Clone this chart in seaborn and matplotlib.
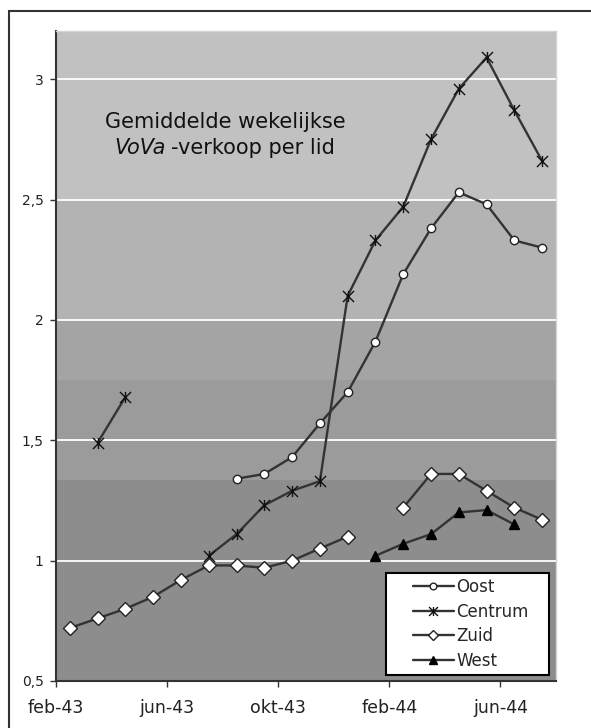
import numpy as np
import pandas as pd
import matplotlib.pyplot as plt
import seaborn as sns
from matplotlib.patches import Rectangle
from matplotlib.path import Path

# monthly values, index 0 = feb-43 ... 17 = jul-44 (None = no data)
oost = [None, None, None, None, None, None, 1.34, 1.36, 1.43, 1.57, 1.70, 1.91,
        2.19, 2.38, 2.53, 2.48, 2.33, 2.30]
centrum = [None, 1.49, 1.68, None, None, 1.02, 1.11, 1.23, 1.29, 1.33, 2.10, 2.33,
           2.47, 2.75, 2.96, 3.09, 2.87, 2.66]
zuid = [0.72, 0.76, 0.80, 0.85, 0.92, 0.98, 0.98, 0.97, 1.00, 1.05, 1.10, None,
        1.22, 1.36, 1.36, 1.29, 1.22, 1.17]
west = [None, None, None, None, None, None, None, None, None, None, None, 1.02,
        1.07, 1.11, 1.20, 1.21, 1.15, None]

series_names = ["Oost", "Centrum", "Zuid", "West"]
series_values = [oost, centrum, zuid, west]

x_tick_pos = [0, 4, 8, 12, 16]
x_tick_labels = ["feb-43", "jun-43", "okt-43", "feb-44", "jun-44"]
y_ticks = [0.5, 1, 1.5, 2, 2.5, 3]
y_tick_labels = ["0,5", "1", "1,5", "2", "2,5", "3"]

# background bands of the plot area
band_edges = [0.5, 1.333, 1.75, 2.0, 2.5, 3.2]
band_colors = ["#8d8d8d", "#9b9b9b", "#a4a4a4", "#b3b3b3", "#c1c1c1"]

# long table, a new segment starts after each gap
rows = []
for name, vals in zip(series_names, series_values):
    seg = 0
    prev_missing = True
    for i, v in enumerate(vals):
        if v is None:
            prev_missing = True
            continue
        if prev_missing:
            seg += 1
            prev_missing = False
        rows.append({"series": name, "x": i + 0.5, "value": v, "seg": seg})
df = pd.DataFrame(rows)

sns.set_style("white")
plt.rcParams["font.family"] = ["DejaVu Sans"]

fig = plt.figure(figsize=(5.91, 7.28), dpi=100)
ax = fig.add_axes([0.0948, 0.0646, 0.846, 0.8928])

for lo, hi, c in zip(band_edges[:-1], band_edges[1:], band_colors):
    ax.axhspan(lo, hi, color=c, lw=0, zorder=0.1)

asterisk = Path([(0, -1), (0, 1), (-1, -1), (1, 1), (-1, 1), (1, -1)],
                [Path.MOVETO, Path.LINETO, Path.MOVETO, Path.LINETO, Path.MOVETO, Path.LINETO])

line_col = "#333333"
styles = {
    "Oost": dict(marker="o", markersize=6, markerfacecolor="white", markeredgecolor="#222222", markeredgewidth=1.0),
    "Centrum": dict(marker=asterisk, markersize=8, markerfacecolor="none", markeredgecolor="#111111", markeredgewidth=1.0),
    "Zuid": dict(marker="D", markersize=7, markerfacecolor="white", markeredgecolor="#222222", markeredgewidth=1.0),
    "West": dict(marker="^", markersize=6.5, markerfacecolor="black", markeredgecolor="black", markeredgewidth=1.0),
}

for name in series_names:
    sub = df[df["series"] == name]
    sns.lineplot(data=sub, x="x", y="value", units="seg", estimator=None, ax=ax,
                 color=line_col, lw=1.7, label=name, legend=False, **styles[name])

ax.set_xlim(0, 18)
ax.set_ylim(0.5, 3.2)
ax.set_xticks(x_tick_pos)
ax.set_xticklabels(x_tick_labels, fontsize=12.5, color="#222222")
ax.set_yticks(y_ticks)
ax.set_yticklabels(y_tick_labels, fontsize=10, color="#222222")
ax.set_xlabel("")
ax.set_ylabel("")
ax.tick_params(axis="x", direction="out", length=4, width=1, color="#333333", pad=9, bottom=True)
ax.tick_params(axis="y", direction="out", length=4, width=1, color="#333333", pad=5, left=True)

ax.grid(axis="y", color="white", lw=1.3)
ax.grid(axis="x", visible=False)
ax.set_axisbelow(True)

for s in ["left", "bottom"]:
    ax.spines[s].set_color("#333333")
    ax.spines[s].set_linewidth(1.5)
for s in ["top", "right"]:
    ax.spines[s].set_color("#d4d4d4")
    ax.spines[s].set_linewidth(1)

# legend: white box drawn separately, entries centred in it
ax.add_patch(Rectangle((0.66, 0.0092), 0.326, 0.157, transform=ax.transAxes,
                       facecolor="white", edgecolor="black", lw=1.5, zorder=4))
handles, labels = ax.get_legend_handles_labels()
uniq = dict(zip(labels, handles))
leg = ax.legend([uniq[n] for n in series_names], series_names, loc="center",
                bbox_to_anchor=(0.829, 0.0877), fontsize=12, frameon=False,
                handlelength=2.5, handletextpad=0.1, markerscale=0.8,
                labelspacing=0.4, borderpad=0, borderaxespad=0)
leg.set_zorder(5)

# title inside the plot
fig.text(0.382, 0.832, "Gemiddelde wekelijkse", fontsize=15, ha="center", va="center", color="#111111")
fig.text(0.281, 0.797, "VoVa", fontsize=15, style="italic", ha="right", va="center", color="#111111")
fig.text(0.289, 0.797, "-verkoop per lid", fontsize=15, ha="left", va="center", color="#111111")

# outer chart frame
fig.patches.append(Rectangle((9 / 591, -0.1), 1.2, 1.1 - 11 / 728, transform=fig.transFigure,
                             fill=False, edgecolor="#333333", lw=1.5))

fig.savefig("out.png", dpi=100)
